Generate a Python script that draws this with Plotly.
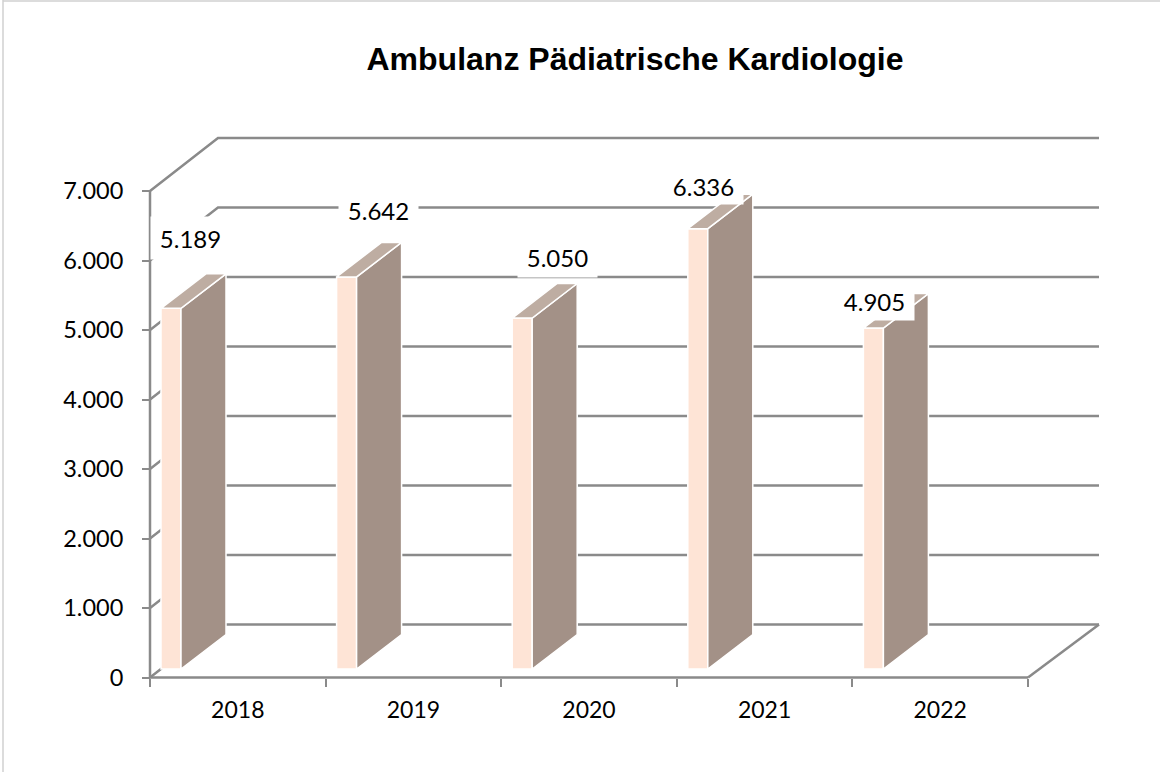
import plotly.graph_objects as go

# ---- data ----
categories = ["2018", "2019", "2020", "2021", "2022"]
values = [5189, 5642, 5050, 6336, 4905]
y_ticks = [0, 1000, 2000, 3000, 4000, 5000, 6000, 7000]
title_text = "Ambulanz Pädiatrische Kardiologie"

# ---- geometry (pixel layout of the plot frame) ----
W, H = 1160, 772
X0, X1 = 150.0, 1028.0
Y0, Y7 = 677.5, 191.0
N = len(categories)
PX_PER_CAT = (X1 - X0) / N
PX_PER_UNIT = (Y0 - Y7) / 7000.0


def dx(px):
    return px / PX_PER_CAT


def dy(px):
    return px / PX_PER_UNIT


WALL_PX_X, WALL_PX_END, WALL_PX_Y = 68, 71, 53
WALL_X, WALL_END, WALL_Y = dx(WALL_PX_X), dx(WALL_PX_END), dy(WALL_PX_Y)
BAR_INSET, BAR_LIFT = dx(11), dy(8.5)
BAR_W = dx(20)
BAR_DX, BAR_DY = dx(45), dy(34.5)
PAD = 4  # room around the frame so line caps are not clipped

GRID = "#8A8A8A"
LINE_W = 2.5
FRONT = "#FEE4D6"
SIDE = "#A39187"
TOP = "#BEADA2"
FONT = "Lato"

# label box placement relative to each bar's front top-left corner
label_dx = [29, 42, 45.5, 15.7, 11]
label_dy = [70, 67, 61, 43, 27]
label_h = [40, 38, 38, 34, 36]

fig = go.Figure()

# back wall and floor lines (main subplot, underneath everything)
for t in y_ticks:
    fig.add_trace(go.Scatter(
        x=[0, WALL_X, N + WALL_END], y=[t, t + WALL_Y, t + WALL_Y],
        mode="lines", line=dict(color=GRID, width=LINE_W),
        hoverinfo="skip", showlegend=False, xaxis="x", yaxis="y"))
fig.add_trace(go.Scatter(
    x=[N, N + WALL_END], y=[0, WALL_Y],
    mode="lines", line=dict(color=GRID, width=LINE_W),
    hoverinfo="skip", showlegend=False, xaxis="x", yaxis="y"))
# front axis lines
fig.add_trace(go.Scatter(
    x=[0, 0, N], y=[y_ticks[-1], 0, 0],
    mode="lines", line=dict(color=GRID, width=LINE_W),
    hoverinfo="skip", showlegend=False, xaxis="x", yaxis="y"))

# bars: front faces
fig.add_trace(go.Bar(
    x=[i + BAR_INSET + BAR_W / 2 for i in range(N)],
    y=values, base=BAR_LIFT, width=BAR_W,
    marker=dict(color=FRONT, line=dict(color="white", width=1.5)),
    hoverinfo="skip", showlegend=False, xaxis="x2", yaxis="y"))

# bars: side and top faces
for i, v in enumerate(values):
    xl = i + BAR_INSET
    xr = xl + BAR_W
    top = v + BAR_LIFT
    fig.add_trace(go.Scatter(
        x=[xr, xr + BAR_DX, xr + BAR_DX, xr, xr],
        y=[BAR_LIFT, BAR_LIFT + BAR_DY, top + BAR_DY, top, BAR_LIFT],
        mode="lines", fill="toself", fillcolor=SIDE,
        line=dict(color="white", width=1.5),
        hoverinfo="skip", showlegend=False, xaxis="x2", yaxis="y"))
    fig.add_trace(go.Scatter(
        x=[xl, xr, xr + BAR_DX, xl + BAR_DX, xl],
        y=[top, top, top + BAR_DY, top + BAR_DY, top],
        mode="lines", fill="toself", fillcolor=TOP,
        line=dict(color="white", width=1.5),
        hoverinfo="skip", showlegend=False, xaxis="x2", yaxis="y"))

# category axis carrier
fig.add_trace(go.Scatter(
    x=categories, y=[0] * N, mode="lines",
    line=dict(width=0), opacity=0, hoverinfo="skip", showlegend=False,
    xaxis="x3", yaxis="y"))

# value labels with white boxes
for i, v in enumerate(values):
    fig.add_annotation(
        x=i + BAR_INSET, y=v + BAR_LIFT, xref="x2", yref="y",
        xshift=label_dx[i], yshift=label_dy[i],
        text=f"{v:,}".replace(",", "."), showarrow=False,
        width=77, height=label_h[i], bgcolor="white", align="center", valign="middle",
        font=dict(family=FONT, size=24, color="#000000"))

# outer border: left and top edges
fig.add_shape(type="line", xref="paper", yref="paper",
              x0=3 / W, x1=3 / W, y0=0, y1=1,
              line=dict(color="#D0D0D0", width=1.5), layer="below")
fig.add_shape(type="line", xref="paper", yref="paper",
              x0=3 / W, x1=1, y0=1 - 1 / H, y1=1 - 1 / H,
              line=dict(color="#D0D0D0", width=1.5), layer="below")

x_hi = N + WALL_END + dx(PAD)
x_lo = -dx(PAD)
common_x = dict(range=[x_lo, x_hi], visible=False, fixedrange=True)

fig.update_layout(
    width=W, height=H, margin=dict(l=0, r=0, t=0, b=0, autoexpand=False),
    paper_bgcolor="white", plot_bgcolor="rgba(0,0,0,0)", showlegend=False,
    separators=",.",
    title=dict(text=f"<b>{title_text}</b>", x=635 / W, xref="container", xanchor="center",
               y=1 - 59 / H, yref="container", yanchor="middle",
               font=dict(family="Liberation Sans", size=32, color="#000000")),
    xaxis=dict(**common_x, domain=[(X0 - PAD) / W, (X1 + WALL_PX_END + PAD) / W], anchor="y"),
    xaxis2=dict(**common_x, overlaying="x", anchor="y"),
    xaxis3=dict(
        type="category", categoryorder="array", categoryarray=categories,
        range=[-0.5 + x_lo, x_hi - 0.5], overlaying="x",
        anchor="free", position=(H - Y0) / H,
        tickson="boundaries", ticks="outside", ticklen=8, tickwidth=1.5, tickcolor=GRID,
        showline=False, showgrid=False, zeroline=False,
        ticklabelstandoff=16,
        tickfont=dict(family=FONT, size=23, color="#000000")),
    yaxis=dict(
        domain=[(H - Y0 - PAD) / H, (H - Y7 + WALL_PX_Y + PAD) / H],
        range=[-dy(PAD), y_ticks[-1] + WALL_Y + dy(PAD)],
        anchor="free", position=X0 / W,
        tickmode="array", tickvals=y_ticks, tickformat=",d",
        ticks="outside", ticklen=8, tickwidth=1.5, tickcolor=GRID,
        showline=False, showgrid=False, zeroline=False,
        ticklabelstandoff=14,
        tickfont=dict(family=FONT, size=23.5, color="#000000")),
)

fig.write_html("out.html", config={"displayModeBar": False},
               post_script="document.body.style.margin='0';")
